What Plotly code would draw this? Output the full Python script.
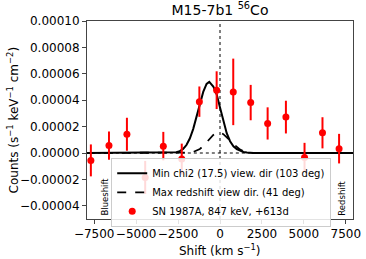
import plotly.graph_objects as go

# ---- data ----
shift_obs = [-7700, -6620, -5550, -4460, -3380, -2280, -1230, -200, 790, 1830, 2840, 3930, 5040, 6110, 7100]
counts_obs = [-5.6e-6, 5.6e-6, 1.42e-5, -1.85e-5, 5.2e-6, -4.6e-6, 3.89e-5, 4.76e-5, 4.63e-5, 3.82e-5,
              2.24e-5, 2.72e-5, -3.4e-6, 1.53e-5, 3.3e-6]
err_obs = [1.21e-5, 1.07e-5, 1.25e-5, 1.25e-5, 1.08e-5, 1.17e-5, 1.15e-5, 1.43e-5, 2.52e-5, 1.34e-5,
           1.22e-5, 1.24e-5, 1.11e-5, 1.18e-5, 1.12e-5]

shift_min = [-8000, -2800, -2600, -2400, -2200, -2000, -1800, -1600, -1400, -1200, -1000, -800, -640,
             -400, -200, 0, 200, 400, 600, 800, 1000, 1200, 1400, 1600, 1800, 2000, 8000]
counts_min = [0, 2.2e-7, 5.7e-7, 1.38e-6, 3.03e-6, 6.04e-6, 1.10e-5, 1.81e-5, 2.72e-5, 3.72e-5, 4.63e-5,
              5.23e-5, 5.39e-5, 5.04e-5, 4.45e-5, 3.45e-5, 2.36e-5, 1.5e-5, 8.9e-6, 5.0e-6, 3.0e-6,
              1.6e-6, 8e-7, 3e-7, 1e-7, 0, 0]

shift_max = [-8000, -2000, -1800, -1600, -1400, -1200, -1000, -800, -600, -400, -200, -80, 0, 200, 400,
             600, 800, 1000, 1200, 1400, 1600, 1800, 2000, 8000]
counts_max = [0, 1.3e-7, 3.3e-7, 7.8e-7, 1.63e-6, 3.07e-6, 5.22e-6, 8.0e-6, 1.10e-5, 1.37e-5, 1.54e-5,
              1.57e-5, 1.56e-5, 1.43e-5, 1.22e-5, 9.5e-6, 6.8e-6, 4.4e-6, 2.6e-6, 1.4e-6, 6e-7, 2e-7,
              0, 0]

x_ticks = [-7500, -5000, -2500, 0, 2500, 5000, 7500]
x_ticklabels = ["\u22127500", "\u22125000", "\u22122500", "0", "2500", "5000", "7500"]
y_ticks = [-4e-5, -2e-5, 0, 2e-5, 4e-5, 6e-5, 8e-5, 1e-4]
y_ticklabels = ["\u22120.00004", "\u22120.00002", "0.00000", "0.00002", "0.00004", "0.00006",
                "0.00008", "0.00010"]

x_range = [-7930, 7930]
y_range = [-5e-5, 1e-4]

FONT = "DejaVu Sans"

fig = go.Figure()

# reference lines
fig.add_trace(go.Scatter(x=[0, 0], y=y_range, mode="lines",
                         line=dict(color="black", width=1, dash="dot"),
                         showlegend=False, hoverinfo="skip"))
fig.add_trace(go.Scatter(x=[-8000, 8000], y=[0, 0], mode="lines",
                         line=dict(color="black", width=1, dash="dot"),
                         showlegend=False, hoverinfo="skip"))

fig.add_trace(go.Scatter(x=shift_min, y=counts_min, mode="lines",
                         line=dict(color="black", width=2),
                         name="Min chi2 (17.5) view. dir (103 deg)"))
fig.add_trace(go.Scatter(x=shift_max, y=counts_max, mode="lines",
                         line=dict(color="black", width=1.8, dash="dash"),
                         name="Max redshift view dir. (41 deg)"))
fig.add_trace(go.Scatter(x=shift_obs, y=counts_obs, mode="markers",
                         marker=dict(color="red", size=7),
                         error_y=dict(type="data", array=err_obs, color="red", thickness=2, width=0),
                         name="SN 1987A, 847 keV, +613d"))

fig.update_layout(
    width=366, height=259,
    template="none",
    margin=dict(l=87, r=13, t=21, b=40, autoexpand=False),
    paper_bgcolor="white", plot_bgcolor="white",
    font=dict(family=FONT, size=12, color="black"),
    title=dict(text="M15-7b1 <sup>56</sup>Co", font=dict(family=FONT, size=14, color="black"),
               x=0.5, xref="paper", xanchor="center", y=1 - 10 / 259, yref="container",
               yanchor="middle"),
    showlegend=True,
    legend=dict(x=0.091, y=0.309, xanchor="left", yanchor="top",
                bgcolor="rgba(255,255,255,0.85)", bordercolor="#cccccc", borderwidth=1,
                font=dict(family=FONT, size=10, color="black"), itemwidth=30,
                tracegroupgap=0),
    xaxis=dict(range=x_range, tickvals=x_ticks, ticktext=x_ticklabels, showgrid=False,
               zeroline=False, showline=True, linecolor="#444", linewidth=1, mirror=True,
               ticks="outside", ticklen=4, tickcolor="#444", tickangle=0, automargin=False,
               tickfont=dict(family=FONT, size=12, color="black")),
    yaxis=dict(range=y_range, tickvals=y_ticks, ticktext=y_ticklabels, showgrid=False,
               zeroline=False, showline=True, linecolor="#444", linewidth=1, mirror=True,
               ticks="outside", ticklen=4, tickcolor="#444", automargin=False,
               tickfont=dict(family=FONT, size=12, color="black")),
    annotations=[
        dict(text="Shift (km s<sup>\u22121</sup>)", xref="paper", yref="paper", x=0.5,
             y=(219 - 250) / 197.5, xanchor="center", yanchor="middle", showarrow=False,
             font=dict(family=FONT, size=12, color="black")),
        dict(text="Counts (s<sup>\u22121</sup> keV<sup>\u22121</sup> cm<sup>\u22122</sup>)",
             xref="paper", yref="paper", x=(13 - 86.7) / 266.3, y=0.5, textangle=-90,
             xanchor="center", yanchor="middle", showarrow=False,
             font=dict(family=FONT, size=12, color="black")),
        dict(text="Blueshift", xref="x", yref="y", x=-6850, y=-4.88e-5, textangle=-90,
             xanchor="center", yanchor="bottom", showarrow=False,
             font=dict(family=FONT, size=8.5, color="black")),
        dict(text="Redshift", xref="x", yref="y", x=7260, y=-4.88e-5, textangle=-90,
             xanchor="center", yanchor="bottom", showarrow=False,
             font=dict(family=FONT, size=8.5, color="black")),
    ],
)

fig.write_html(
    "out.html",
    config={"displayModeBar": False},
    post_script="document.body.style.margin='0';document.body.style.padding='0';",
)
